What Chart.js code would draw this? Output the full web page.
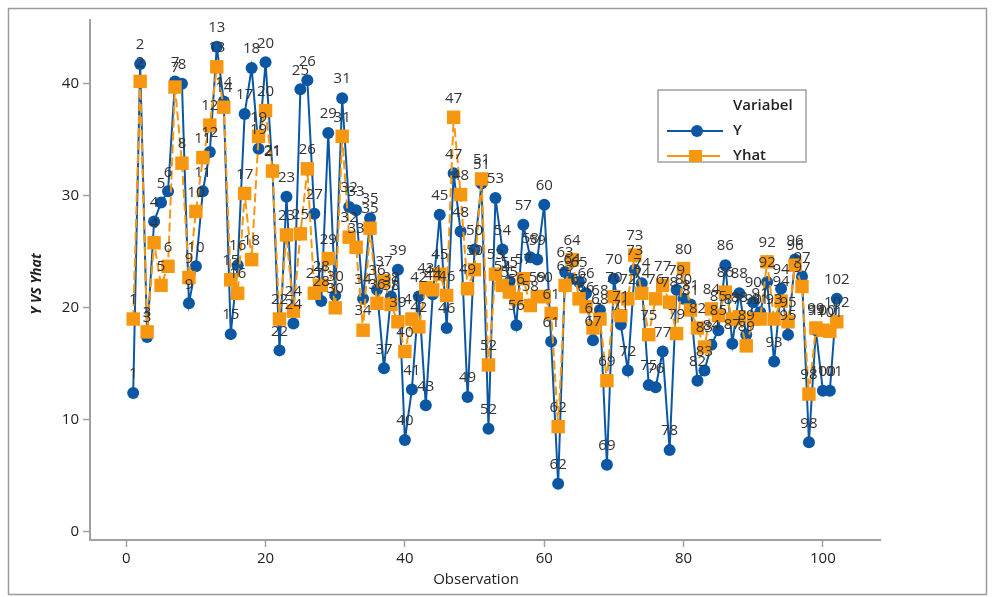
<!DOCTYPE html>
<html>
<head>
<meta charset="utf-8">
<script src="https://cdn.jsdelivr.net/npm/chart.js@4"></script>
<style>
  html, body { margin: 0; padding: 0; background: #fff; }
  #wrap { width: 995px; height: 597px; }
</style>
</head>
<body>
<div id="wrap"><canvas id="chart" width="995" height="597"></canvas></div>
<script>
// observation numbers
const observation = [
  1, 2, 3, 4, 5, 6, 7, 8, 9, 10, 11, 12, 13, 14, 15, 16, 17, 18, 19, 20,
  21, 22, 23, 24, 25, 26, 27, 28, 29, 30, 31, 32, 33, 34, 35, 36, 37, 38, 39, 40,
  41, 42, 43, 44, 45, 46, 47, 48, 49, 50, 51, 52, 53, 54, 55, 56, 57, 58, 59, 60,
  61, 62, 63, 64, 65, 66, 67, 68, 69, 70, 71, 72, 73, 74, 75, 76, 77, 78, 79, 80,
  81, 82, 83, 84, 85, 86, 87, 88, 89, 90, 91, 92, 93, 94, 95, 96, 97, 98, 99, 100,
  101, 102
];

const yValues = [
  12.4, 41.75, 17.4, 27.7, 29.4, 30.4, 40.2, 40.0, 20.4, 23.7,
  30.4, 33.9, 43.3, 38.4, 17.65, 23.8, 37.3, 41.4, 34.2, 41.9,
  32.3, 16.2, 29.9, 18.6, 39.5, 40.3, 28.4, 20.6, 35.6, 21.1,
  38.7, 29.0, 28.7, 20.8, 28.0, 21.6, 14.6, 21.0, 23.4, 8.2,
  12.7, 21.0, 11.3, 21.2, 28.3, 18.2, 32.0, 26.8, 12.05, 25.2,
  31.1, 9.2, 29.8, 25.2, 22.3, 18.45, 27.4, 24.5, 24.3, 29.2,
  17.0, 4.3, 23.2, 22.6, 22.3, 21.3, 17.1, 19.8, 6.0, 22.6,
  18.5, 14.4, 23.4, 22.2, 13.1, 12.9, 16.1, 7.3, 21.6, 20.8,
  20.3, 13.5, 14.4, 16.7, 18.0, 23.8, 16.8, 21.3, 17.6, 20.5,
  19.6, 22.3, 15.2, 21.7, 17.6, 24.3, 22.8, 8.0, 18.0, 12.6,
  12.6, 20.8
];

const yhatValues = [
  19.0, 40.2, 17.85, 25.8, 22.0, 23.7, 39.7, 32.9, 22.7, 28.6,
  33.4, 36.3, 41.5, 37.9, 22.5, 21.3, 30.2, 24.3, 35.3, 37.6,
  32.2, 19.0, 26.5, 19.7, 26.6, 32.4, 21.3, 22.0, 24.4, 20.0,
  35.3, 26.3, 25.4, 18.0, 27.1, 20.4, 22.4, 20.3, 18.75, 16.1,
  19.0, 18.3, 21.8, 21.6, 23.0, 21.1, 37.0, 30.1, 21.7, 23.4,
  31.5, 14.9, 23.0, 22.0, 21.4, 20.8, 22.6, 20.2, 21.0, 21.0,
  19.5, 9.4, 22.0, 24.3, 20.8, 20.1, 18.2, 19.0, 13.5, 21.0,
  19.3, 20.8, 24.7, 21.3, 17.6, 20.8, 22.0, 20.5, 17.7, 23.5,
  19.8, 18.2, 16.5, 19.9, 19.3, 21.4, 19.0, 19.2, 16.6, 19.0,
  19.0, 24.1, 19.0, 20.6, 18.75, 23.8, 21.9, 12.3, 18.2, 18.0,
  17.9, 18.75
];

const xTicks = [0, 20, 40, 60, 80, 100];
const yTicks = [0, 10, 20, 30, 40];

const BLUE = '#0b57a4';
const ORANGE = '#f7960f';
const AXIS = '#a0a0a0';
const TEXT = '#222';

// number every point with its observation
const pointLabels = {
  id: 'pointLabels',
  afterDatasetsDraw(chart) {
    const ctx = chart.ctx;
    ctx.save();
    ctx.font = '15px "Open Sans"';
    ctx.fillStyle = '#333';
    ctx.textAlign = 'center';
    ctx.textBaseline = 'middle';
    [1, 0].forEach(function(di) {
      chart.getDatasetMeta(di).data.forEach(function(el, i) {
        ctx.fillText(String(observation[i]), el.x, el.y - 19);
      });
    });
    ctx.restore();
  }
};

// frame, axis titles and legend box
const decorations = {
  id: 'decorations',
  afterDraw(chart) {
    const ctx = chart.ctx;
    ctx.save();
    ctx.strokeStyle = '#9a9a9a';
    ctx.lineWidth = 1.5;
    ctx.strokeRect(8.5, 8.5, 978, 586);

    ctx.fillStyle = TEXT;
    ctx.textAlign = 'center';
    ctx.textBaseline = 'middle';
    ctx.font = '15px "Open Sans"';
    ctx.fillText('Observation', 476, 580);

    ctx.save();
    ctx.translate(37, 284);
    ctx.rotate(-Math.PI / 2);
    ctx.font = 'italic bold 14px "Open Sans"';
    ctx.fillText('Y VS Yhat', 0, 0);
    ctx.restore();

    // legend
    ctx.fillStyle = '#fff';
    ctx.fillRect(658, 90, 148, 72);
    ctx.strokeStyle = '#a0a0a0';
    ctx.lineWidth = 1.5;
    ctx.strokeRect(658, 90, 148, 72);

    ctx.fillStyle = TEXT;
    ctx.textAlign = 'left';
    ctx.font = '600 15px "Open Sans"';
    ctx.fillText('Variabel', 733, 106);
    ctx.fillText('Y', 733, 131);
    ctx.fillText('Yhat', 733, 156);

    ctx.strokeStyle = BLUE;
    ctx.lineWidth = 2;
    ctx.setLineDash([]);
    ctx.beginPath();
    ctx.moveTo(667, 131);
    ctx.lineTo(723, 131);
    ctx.stroke();
    ctx.fillStyle = BLUE;
    ctx.beginPath();
    ctx.arc(697, 131, 6, 0, Math.PI * 2);
    ctx.fill();

    ctx.strokeStyle = ORANGE;
    ctx.beginPath();
    ctx.moveTo(667, 156);
    ctx.lineTo(720, 156);
    ctx.stroke();
    ctx.fillStyle = ORANGE;
    ctx.fillRect(689, 150, 13, 12);
    ctx.restore();
  }
};

const ctx = document.getElementById('chart').getContext('2d');
new Chart(ctx, {
  type: 'line',
  data: {
    datasets: [
      {
        label: 'Y',
        data: observation.map((x, i) => ({ x: x, y: yValues[i] })),
        borderColor: BLUE,
        backgroundColor: BLUE,
        borderWidth: 2,
        pointStyle: 'circle',
        pointRadius: 6,
        pointBorderWidth: 0,
        pointBackgroundColor: BLUE,
        tension: 0,
        order: 1
      },
      {
        label: 'Yhat',
        data: observation.map((x, i) => ({ x: x, y: yhatValues[i] })),
        borderColor: ORANGE,
        backgroundColor: ORANGE,
        borderWidth: 2,
        borderDash: [9, 4],
        pointStyle: 'rect',
        pointRadius: 9.5,
        pointBorderWidth: 0,
        pointBackgroundColor: ORANGE,
        tension: 0,
        order: 0
      }
    ]
  },
  options: {
    responsive: false,
    animation: false,
    devicePixelRatio: 1,
    layout: { padding: { top: 20, right: 115, left: 0, bottom: 0 } },
    plugins: {
      legend: { display: false },
      tooltip: { enabled: false }
    },
    scales: {
      x: {
        type: 'linear',
        min: -5.2,
        max: 108.2,
        afterBuildTicks: function(scale) {
          scale.ticks = xTicks.map(v => ({ value: v }));
        },
        afterFit: function(scale) { scale.height = 57; },
        border: { display: true, color: AXIS, width: 2 },
        grid: { drawOnChartArea: false, tickLength: 7, tickColor: AXIS, tickWidth: 1.5 },
        ticks: {
          color: TEXT,
          padding: 3,
          maxRotation: 0,
          font: { family: 'Open Sans', size: 15 }
        }
      },
      y: {
        min: -0.72,
        max: 45.68,
        afterBuildTicks: function(scale) {
          scale.ticks = yTicks.map(v => ({ value: v }));
        },
        afterFit: function(scale) { scale.width = 90; },
        border: { display: true, color: AXIS, width: 2 },
        grid: { drawOnChartArea: false, tickLength: 7, tickColor: AXIS, tickWidth: 1.5 },
        ticks: {
          color: TEXT,
          padding: 4,
          font: { family: 'Open Sans', size: 15 }
        }
      }
    }
  },
  plugins: [pointLabels, decorations]
});
</script>
</body>
</html>
